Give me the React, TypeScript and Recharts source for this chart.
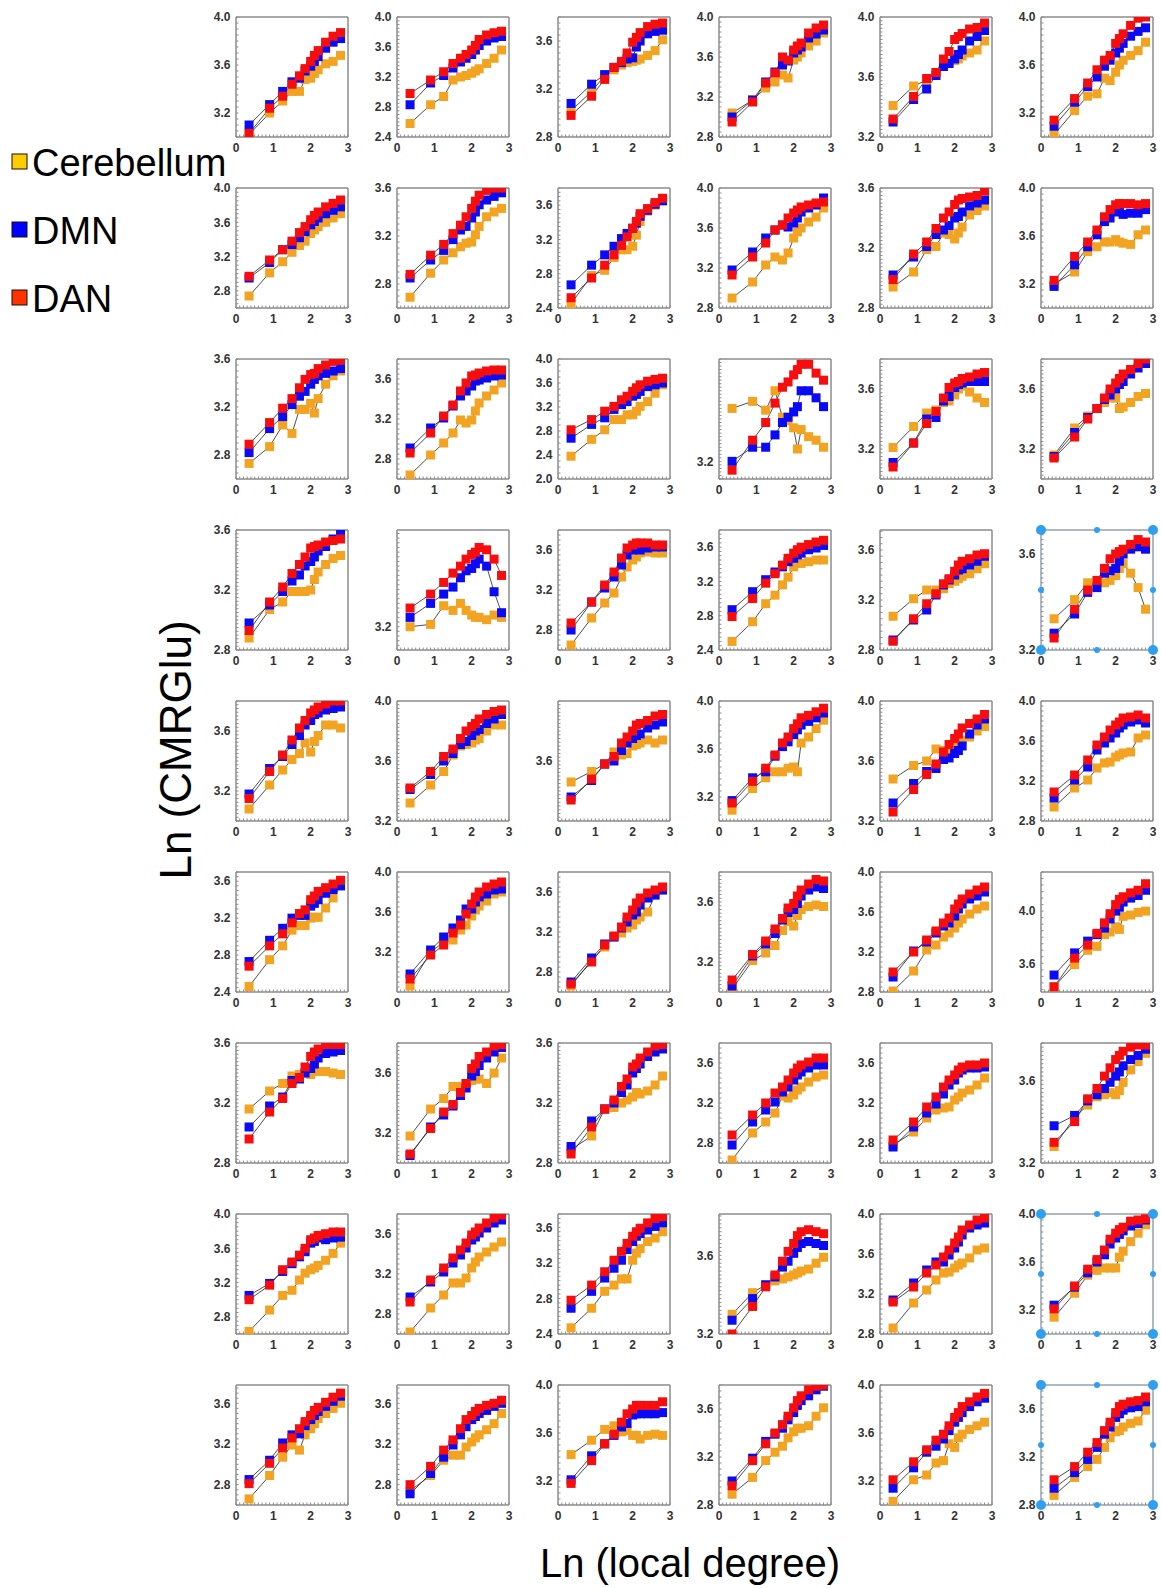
import { LineChart, Line, XAxis, YAxis, ReferenceArea, ReferenceDot } from "recharts";

// ln(local degree) bins, same in every panel
const X_POINTS = [0.35, 0.9, 1.25, 1.5, 1.7, 1.85, 2.0, 2.1, 2.2, 2.4, 2.6, 2.8];
const X_TICKS = [0, 1, 2, 3];

// y range per panel, row by row (6 per row)
const Y_DOMAINS: number[][] = [
  [3.0, 4.0], [2.4, 4.0], [2.8, 3.8], [2.8, 4.0], [3.2, 4.0], [3.0, 4.0],
  [2.6, 4.0], [2.6, 3.6], [2.4, 3.8], [2.8, 4.0], [2.8, 3.6], [3.0, 4.0],
  [2.6, 3.6], [2.6, 3.8], [2.0, 4.0], [3.1, 3.78], [3.0, 3.8], [3.0, 3.8],
  [2.8, 3.6], [3.1, 3.615], [2.6, 3.8], [2.4, 3.8], [2.8, 3.76], [3.2, 3.7],
  [3.0, 3.8], [3.2, 4.0], [3.2, 4.0], [3.0, 4.0], [3.2, 4.0], [2.8, 4.0],
  [2.4, 3.7], [2.8, 4.0], [2.6, 3.8], [3.0, 3.8], [2.8, 4.0], [3.38, 4.3],
  [2.8, 3.6], [3.0, 3.8], [2.8, 3.6], [2.6, 3.8], [2.6, 3.8], [3.2, 3.78],
  [2.6, 4.0], [2.6, 3.8], [2.4, 3.75], [3.2, 3.81], [2.8, 4.0], [3.0, 4.0],
  [2.6, 3.78], [2.6, 3.78], [3.0, 4.0], [2.8, 3.8], [3.0, 4.0], [2.8, 3.8],
];

const Y_TICKS: number[][] = [
  [3.2, 3.6, 4.0], [2.4, 2.8, 3.2, 3.6, 4.0], [2.8, 3.2, 3.6], [2.8, 3.2, 3.6, 4.0], [3.2, 3.6, 4.0], [3.2, 3.6, 4.0],
  [2.8, 3.2, 3.6, 4.0], [2.8, 3.2, 3.6], [2.4, 2.8, 3.2, 3.6], [2.8, 3.2, 3.6, 4.0], [2.8, 3.2, 3.6], [3.2, 3.6, 4.0],
  [2.8, 3.2, 3.6], [2.8, 3.2, 3.6], [2.0, 2.4, 2.8, 3.2, 3.6, 4.0], [3.2], [3.2, 3.6], [3.2, 3.6],
  [2.8, 3.2, 3.6], [3.2], [2.8, 3.2, 3.6], [2.4, 2.8, 3.2, 3.6], [2.8, 3.2, 3.6], [3.2, 3.6],
  [3.2, 3.6], [3.2, 3.6, 4.0], [3.6], [3.2, 3.6, 4.0], [3.2, 3.6, 4.0], [2.8, 3.2, 3.6, 4.0],
  [2.4, 2.8, 3.2, 3.6], [3.2, 3.6, 4.0], [2.8, 3.2, 3.6], [3.2, 3.6], [2.8, 3.2, 3.6, 4.0], [3.6, 4.0],
  [2.8, 3.2, 3.6], [3.2, 3.6], [2.8, 3.2, 3.6], [2.8, 3.2, 3.6], [2.8, 3.2, 3.6], [3.2, 3.6],
  [2.8, 3.2, 3.6, 4.0], [2.8, 3.2, 3.6], [2.4, 2.8, 3.2, 3.6], [3.2, 3.6], [2.8, 3.2, 3.6, 4.0], [3.2, 3.6, 4.0],
  [2.8, 3.2, 3.6], [2.8, 3.2, 3.6], [3.2, 3.6, 4.0], [2.8, 3.2, 3.6], [3.2, 3.6, 4.0], [2.8, 3.2, 3.6],
];

// panels that still show the selection handles of the source figure
const SELECTED_PANELS = [23, 47, 53];

// Ln(CMRGlu) per panel
const CEREBELLUM: number[][] = [
  [3.02, 3.20, 3.30, 3.38, 3.38, 3.48, 3.49, 3.53, 3.56, 3.61, 3.63, 3.68],
  [2.58, 2.83, 2.94, 3.16, 3.20, 3.22, 3.25, 3.28, 3.31, 3.38, 3.45, 3.56],
  [3.02, 3.18, 3.31, 3.36, 3.40, 3.42, 3.43, 3.44, 3.45, 3.48, 3.52, 3.61],
  [3.04, 3.17, 3.29, 3.35, 3.42, 3.39, 3.57, 3.60, 3.64, 3.71, 3.76, 3.84],
  [3.41, 3.54, 3.58, 3.63, 3.69, 3.70, 3.71, 3.72, 3.74, 3.76, 3.78, 3.84],
  [3.02, 3.22, 3.34, 3.36, 3.49, 3.47, 3.54, 3.60, 3.64, 3.68, 3.72, 3.79],

  [2.74, 3.01, 3.14, 3.25, 3.33, 3.38, 3.47, 3.51, 3.55, 3.60, 3.65, 3.70],
  [2.69, 2.89, 3.00, 3.06, 3.11, 3.14, 3.15, 3.21, 3.28, 3.36, 3.40, 3.43],
  [2.45, 2.78, 2.84, 2.99, 3.08, 3.08, 3.12, 3.25, 3.41, 3.53, 3.60, 3.66],
  [2.90, 3.06, 3.23, 3.31, 3.28, 3.35, 3.50, 3.56, 3.60, 3.66, 3.71, 3.80],
  [2.94, 3.04, 3.19, 3.21, 3.30, 3.29, 3.26, 3.30, 3.34, 3.42, 3.45, 3.48],
  [3.20, 3.30, 3.47, 3.51, 3.55, 3.55, 3.57, 3.55, 3.54, 3.53, 3.61, 3.65],

  [2.73, 2.87, 3.05, 2.98, 3.18, 3.18, 3.23, 3.15, 3.27, 3.39, 3.46, 3.50],
  [2.64, 2.84, 2.96, 3.06, 3.19, 3.16, 3.19, 3.28, 3.36, 3.43, 3.49, 3.56],
  [2.38, 2.66, 2.82, 2.99, 2.99, 3.07, 3.07, 3.13, 3.21, 3.29, 3.43, 3.57],
  [3.50, 3.54, 3.49, 3.60, 3.45, 3.43, 3.39, 3.27, 3.38, 3.34, 3.32, 3.28],
  [3.21, 3.35, 3.44, 3.46, 3.51, 3.52, 3.56, 3.60, 3.62, 3.58, 3.54, 3.51],
  [3.16, 3.34, 3.42, 3.47, 3.51, 3.54, 3.54, 3.47, 3.48, 3.51, 3.55, 3.57],

  [2.88, 3.07, 3.12, 3.19, 3.19, 3.19, 3.20, 3.27, 3.32, 3.37, 3.41, 3.43],
  [3.20, 3.21, 3.29, 3.27, 3.30, 3.27, 3.25, 3.24, 3.24, 3.23, 3.25, 3.24],
  [2.65, 2.92, 3.07, 3.17, 3.33, 3.43, 3.50, 3.53, 3.57, 3.58, 3.57, 3.57],
  [2.50, 2.73, 2.94, 3.04, 3.16, 3.25, 3.37, 3.43, 3.41, 3.43, 3.45, 3.45],
  [3.07, 3.21, 3.28, 3.28, 3.29, 3.33, 3.35, 3.37, 3.39, 3.41, 3.45, 3.49],
  [3.33, 3.41, 3.48, 3.48, 3.48, 3.49, 3.51, 3.54, 3.56, 3.52, 3.46, 3.37],

  [3.08, 3.24, 3.34, 3.41, 3.45, 3.52, 3.46, 3.53, 3.57, 3.64, 3.64, 3.62],
  [3.32, 3.44, 3.53, 3.64, 3.70, 3.71, 3.72, 3.74, 3.75, 3.80, 3.84, 3.84],
  [3.46, 3.53, 3.58, 3.66, 3.64, 3.65, 3.70, 3.71, 3.72, 3.74, 3.72, 3.74],
  [3.09, 3.27, 3.36, 3.41, 3.41, 3.44, 3.45, 3.41, 3.65, 3.70, 3.77, 3.84],
  [3.48, 3.57, 3.60, 3.68, 3.67, 3.65, 3.70, 3.73, 3.74, 3.76, 3.80, 3.83],
  [2.94, 3.13, 3.21, 3.33, 3.38, 3.39, 3.44, 3.46, 3.48, 3.49, 3.63, 3.66],

  [2.46, 2.75, 2.90, 3.07, 3.12, 3.12, 3.20, 3.21, 3.21, 3.31, 3.42, 3.55],
  [2.86, 3.20, 3.30, 3.32, 3.42, 3.47, 3.56, 3.62, 3.66, 3.71, 3.78, 3.80],
  [2.66, 2.92, 3.05, 3.15, 3.19, 3.24, 3.27, 3.32, 3.35, 3.40, 3.57, 3.62],
  [3.02, 3.21, 3.26, 3.31, 3.41, 3.47, 3.44, 3.51, 3.55, 3.57, 3.58, 3.57],
  [2.81, 3.01, 3.22, 3.27, 3.35, 3.39, 3.44, 3.49, 3.53, 3.58, 3.63, 3.66],
  [3.42, 3.59, 3.70, 3.73, 3.82, 3.84, 3.88, 3.86, 3.96, 3.97, 3.99, 4.00],

  [3.16, 3.28, 3.33, 3.38, 3.39, 3.40, 3.39, 3.42, 3.41, 3.41, 3.40, 3.39],
  [3.18, 3.36, 3.43, 3.51, 3.51, 3.53, 3.55, 3.56, 3.56, 3.53, 3.60, 3.70],
  [2.89, 2.98, 3.16, 3.17, 3.20, 3.22, 3.24, 3.27, 3.26, 3.28, 3.32, 3.38],
  [2.63, 2.90, 3.01, 3.10, 3.27, 3.25, 3.28, 3.33, 3.36, 3.41, 3.46, 3.48],
  [2.78, 2.91, 3.05, 3.13, 3.15, 3.16, 3.23, 3.26, 3.30, 3.33, 3.38, 3.45],
  [3.28, 3.42, 3.48, 3.52, 3.53, 3.54, 3.53, 3.55, 3.59, 3.65, 3.69, 3.73],

  [2.63, 2.88, 3.05, 3.11, 3.23, 3.31, 3.35, 3.37, 3.40, 3.46, 3.54, 3.66],
  [2.62, 2.86, 2.99, 3.11, 3.11, 3.16, 3.26, 3.32, 3.37, 3.42, 3.47, 3.52],
  [2.47, 2.69, 2.88, 2.95, 3.02, 3.02, 3.23, 3.31, 3.36, 3.44, 3.48, 3.55],
  [3.30, 3.41, 3.45, 3.47, 3.48, 3.49, 3.50, 3.51, 3.52, 3.53, 3.56, 3.59],
  [2.86, 3.11, 3.24, 3.34, 3.41, 3.42, 3.46, 3.49, 3.51, 3.56, 3.64, 3.66],
  [3.14, 3.34, 3.49, 3.53, 3.55, 3.55, 3.55, 3.64, 3.69, 3.77, 3.84, 3.91],

  [2.66, 2.89, 3.07, 3.19, 3.14, 3.29, 3.35, 3.40, 3.45, 3.50, 3.55, 3.60],
  [2.74, 2.89, 3.04, 3.09, 3.09, 3.17, 3.22, 3.26, 3.29, 3.34, 3.40, 3.50],
  [3.42, 3.54, 3.63, 3.66, 3.61, 3.62, 3.58, 3.58, 3.55, 3.58, 3.59, 3.58],
  [2.89, 3.03, 3.17, 3.24, 3.29, 3.36, 3.41, 3.44, 3.44, 3.46, 3.54, 3.61],
  [3.03, 3.21, 3.25, 3.35, 3.37, 3.51, 3.48, 3.56, 3.59, 3.63, 3.66, 3.69],
  [2.88, 3.03, 3.12, 3.18, 3.28, 3.36, 3.41, 3.42, 3.45, 3.48, 3.50, 3.59],
];

const DMN: number[][] = [
  [3.10, 3.27, 3.38, 3.46, 3.49, 3.55, 3.59, 3.63, 3.67, 3.74, 3.79, 3.82],
  [2.83, 3.12, 3.22, 3.32, 3.40, 3.45, 3.50, 3.56, 3.62, 3.68, 3.72, 3.74],
  [3.08, 3.24, 3.32, 3.38, 3.42, 3.45, 3.46, 3.55, 3.60, 3.66, 3.68, 3.69],
  [3.00, 3.17, 3.35, 3.45, 3.52, 3.56, 3.64, 3.67, 3.70, 3.79, 3.83, 3.87],
  [3.30, 3.45, 3.52, 3.61, 3.67, 3.69, 3.72, 3.75, 3.78, 3.84, 3.87, 3.91],
  [3.09, 3.29, 3.42, 3.50, 3.59, 3.64, 3.70, 3.74, 3.78, 3.84, 3.88, 3.91],

  [2.95, 3.13, 3.28, 3.34, 3.42, 3.49, 3.57, 3.61, 3.65, 3.70, 3.74, 3.78],
  [2.85, 3.00, 3.08, 3.17, 3.25, 3.28, 3.35, 3.40, 3.46, 3.50, 3.53, 3.56],
  [2.67, 2.90, 3.02, 3.12, 3.21, 3.27, 3.33, 3.39, 3.47, 3.54, 3.61, 3.65],
  [3.18, 3.36, 3.50, 3.58, 3.63, 3.61, 3.65, 3.70, 3.76, 3.80, 3.83, 3.90],
  [3.02, 3.14, 3.21, 3.29, 3.32, 3.35, 3.40, 3.41, 3.44, 3.48, 3.50, 3.52],
  [3.18, 3.36, 3.51, 3.61, 3.72, 3.75, 3.80, 3.83, 3.78, 3.79, 3.79, 3.82],

  [2.82, 3.02, 3.12, 3.22, 3.29, 3.33, 3.39, 3.43, 3.46, 3.48, 3.50, 3.52],
  [2.91, 3.11, 3.21, 3.33, 3.43, 3.48, 3.53, 3.58, 3.59, 3.61, 3.63, 3.64],
  [2.68, 2.91, 3.02, 3.16, 3.24, 3.29, 3.38, 3.41, 3.46, 3.54, 3.57, 3.60],
  [3.20, 3.28, 3.28, 3.35, 3.42, 3.45, 3.48, 3.51, 3.60, 3.60, 3.56, 3.51],
  [3.11, 3.24, 3.40, 3.41, 3.52, 3.55, 3.61, 3.63, 3.64, 3.65, 3.65, 3.65],
  [3.15, 3.31, 3.41, 3.47, 3.53, 3.56, 3.60, 3.63, 3.65, 3.70, 3.74, 3.77],

  [2.98, 3.10, 3.19, 3.26, 3.30, 3.36, 3.39, 3.42, 3.46, 3.49, 3.54, 3.59],
  [3.24, 3.30, 3.34, 3.37, 3.41, 3.44, 3.45, 3.47, 3.49, 3.46, 3.35, 3.26],
  [2.80, 3.08, 3.22, 3.33, 3.45, 3.55, 3.60, 3.62, 3.60, 3.62, 3.63, 3.63],
  [2.87, 3.08, 3.22, 3.31, 3.37, 3.43, 3.47, 3.51, 3.53, 3.57, 3.59, 3.62],
  [2.88, 3.04, 3.12, 3.24, 3.32, 3.36, 3.40, 3.44, 3.45, 3.48, 3.51, 3.55],
  [3.27, 3.35, 3.44, 3.46, 3.52, 3.53, 3.54, 3.57, 3.60, 3.62, 3.63, 3.62],

  [3.18, 3.35, 3.43, 3.51, 3.57, 3.64, 3.67, 3.71, 3.72, 3.74, 3.75, 3.76],
  [3.41, 3.51, 3.60, 3.65, 3.71, 3.73, 3.77, 3.80, 3.81, 3.85, 3.88, 3.91],
  [3.36, 3.47, 3.58, 3.60, 3.67, 3.72, 3.75, 3.77, 3.78, 3.82, 3.84, 3.86],
  [3.17, 3.36, 3.41, 3.54, 3.62, 3.66, 3.72, 3.76, 3.80, 3.83, 3.86, 3.90],
  [3.32, 3.45, 3.53, 3.55, 3.61, 3.62, 3.65, 3.67, 3.70, 3.78, 3.84, 3.88],
  [3.03, 3.21, 3.34, 3.51, 3.58, 3.63, 3.68, 3.73, 3.76, 3.79, 3.81, 3.78],

  [2.73, 2.96, 3.09, 3.20, 3.23, 3.23, 3.33, 3.36, 3.40, 3.47, 3.51, 3.55],
  [2.98, 3.22, 3.35, 3.44, 3.52, 3.63, 3.63, 3.70, 3.75, 3.78, 3.82, 3.83],
  [2.70, 2.94, 3.08, 3.15, 3.24, 3.30, 3.37, 3.40, 3.47, 3.54, 3.57, 3.62],
  [3.04, 3.24, 3.32, 3.39, 3.48, 3.53, 3.55, 3.59, 3.64, 3.68, 3.70, 3.69],
  [2.95, 3.21, 3.30, 3.39, 3.46, 3.49, 3.56, 3.63, 3.68, 3.73, 3.76, 3.80],
  [3.51, 3.68, 3.77, 3.82, 3.87, 3.94, 4.00, 4.03, 4.07, 4.10, 4.12, 4.16],

  [3.04, 3.18, 3.24, 3.35, 3.36, 3.40, 3.43, 3.46, 3.50, 3.53, 3.54, 3.55],
  [3.05, 3.24, 3.32, 3.38, 3.45, 3.50, 3.58, 3.61, 3.65, 3.70, 3.74, 3.77],
  [2.91, 3.08, 3.16, 3.20, 3.27, 3.32, 3.40, 3.43, 3.46, 3.51, 3.54, 3.56],
  [2.78, 3.01, 3.13, 3.21, 3.31, 3.36, 3.43, 3.48, 3.51, 3.55, 3.58, 3.58],
  [2.76, 2.96, 3.10, 3.19, 3.29, 3.38, 3.43, 3.50, 3.53, 3.55, 3.55, 3.56],
  [3.38, 3.43, 3.50, 3.53, 3.56, 3.59, 3.62, 3.64, 3.67, 3.70, 3.72, 3.75],

  [3.05, 3.19, 3.33, 3.42, 3.50, 3.56, 3.66, 3.68, 3.72, 3.70, 3.72, 3.73],
  [2.97, 3.12, 3.22, 3.31, 3.39, 3.46, 3.54, 3.57, 3.61, 3.66, 3.71, 3.74],
  [2.69, 2.88, 3.03, 3.14, 3.23, 3.35, 3.44, 3.50, 3.53, 3.57, 3.61, 3.65],
  [3.27, 3.38, 3.45, 3.49, 3.54, 3.57, 3.61, 3.64, 3.66, 3.67, 3.66, 3.65],
  [3.14, 3.31, 3.44, 3.52, 3.52, 3.59, 3.66, 3.72, 3.79, 3.86, 3.89, 3.91],
  [3.24, 3.39, 3.51, 3.60, 3.66, 3.75, 3.80, 3.83, 3.86, 3.90, 3.92, 3.95],

  [2.85, 3.04, 3.21, 3.29, 3.30, 3.38, 3.44, 3.48, 3.52, 3.57, 3.62, 3.67],
  [2.71, 2.91, 3.07, 3.19, 3.29, 3.37, 3.44, 3.47, 3.50, 3.53, 3.57, 3.60],
  [3.21, 3.41, 3.51, 3.58, 3.65, 3.68, 3.75, 3.76, 3.76, 3.76, 3.76, 3.77],
  [3.00, 3.19, 3.33, 3.39, 3.44, 3.51, 3.57, 3.63, 3.67, 3.71, 3.76, 3.79],
  [3.14, 3.31, 3.44, 3.49, 3.55, 3.62, 3.69, 3.73, 3.77, 3.82, 3.86, 3.89],
  [2.94, 3.07, 3.18, 3.28, 3.39, 3.45, 3.53, 3.56, 3.59, 3.61, 3.62, 3.66],
];

const DAN: number[][] = [
  [3.03, 3.24, 3.34, 3.44, 3.51, 3.57, 3.63, 3.68, 3.72, 3.79, 3.84, 3.87],
  [2.98, 3.16, 3.27, 3.38, 3.45, 3.50, 3.56, 3.62, 3.70, 3.76, 3.79, 3.81],
  [2.98, 3.14, 3.28, 3.38, 3.43, 3.50, 3.59, 3.63, 3.67, 3.72, 3.74, 3.75],
  [2.95, 3.15, 3.34, 3.44, 3.60, 3.57, 3.67, 3.71, 3.74, 3.84, 3.89, 3.92],
  [3.32, 3.47, 3.59, 3.63, 3.72, 3.77, 3.85, 3.87, 3.89, 3.92, 3.93, 3.96],
  [3.14, 3.32, 3.45, 3.56, 3.64, 3.68, 3.78, 3.82, 3.86, 3.93, 3.99, 4.00],

  [2.97, 3.16, 3.28, 3.38, 3.48, 3.55, 3.63, 3.68, 3.72, 3.78, 3.82, 3.86],
  [2.88, 3.04, 3.13, 3.22, 3.29, 3.36, 3.43, 3.49, 3.54, 3.58, 3.60, 3.60],
  [2.52, 2.75, 2.90, 3.02, 3.13, 3.23, 3.33, 3.41, 3.50, 3.56, 3.63, 3.68],
  [3.13, 3.31, 3.45, 3.58, 3.63, 3.70, 3.75, 3.78, 3.81, 3.83, 3.85, 3.86],
  [2.99, 3.16, 3.24, 3.33, 3.40, 3.44, 3.49, 3.52, 3.53, 3.54, 3.55, 3.58],
  [3.23, 3.43, 3.55, 3.65, 3.76, 3.82, 3.86, 3.87, 3.87, 3.87, 3.86, 3.87],

  [2.89, 3.07, 3.19, 3.27, 3.36, 3.43, 3.47, 3.48, 3.52, 3.55, 3.58, 3.59],
  [2.86, 3.06, 3.23, 3.34, 3.48, 3.56, 3.63, 3.64, 3.66, 3.68, 3.69, 3.69],
  [2.82, 2.99, 3.13, 3.21, 3.32, 3.38, 3.46, 3.52, 3.57, 3.63, 3.66, 3.68],
  [3.15, 3.32, 3.42, 3.53, 3.62, 3.65, 3.69, 3.72, 3.75, 3.75, 3.70, 3.66],
  [3.08, 3.24, 3.37, 3.45, 3.54, 3.61, 3.64, 3.65, 3.67, 3.68, 3.70, 3.71],
  [3.14, 3.28, 3.40, 3.47, 3.54, 3.60, 3.64, 3.67, 3.70, 3.73, 3.77, 3.80],

  [2.93, 3.12, 3.22, 3.31, 3.37, 3.42, 3.48, 3.49, 3.50, 3.52, 3.53, 3.54],
  [3.28, 3.34, 3.39, 3.43, 3.46, 3.49, 3.51, 3.52, 3.54, 3.53, 3.49, 3.42],
  [2.87, 3.08, 3.25, 3.38, 3.52, 3.62, 3.65, 3.67, 3.67, 3.67, 3.65, 3.65],
  [2.79, 3.00, 3.18, 3.29, 3.39, 3.47, 3.53, 3.57, 3.60, 3.63, 3.66, 3.68],
  [2.87, 3.05, 3.17, 3.25, 3.33, 3.37, 3.43, 3.48, 3.51, 3.53, 3.56, 3.57],
  [3.25, 3.37, 3.45, 3.49, 3.54, 3.58, 3.60, 3.61, 3.62, 3.64, 3.66, 3.65],

  [3.15, 3.33, 3.44, 3.54, 3.62, 3.67, 3.72, 3.74, 3.76, 3.78, 3.80, 3.80],
  [3.42, 3.53, 3.63, 3.68, 3.75, 3.80, 3.83, 3.85, 3.88, 3.91, 3.93, 3.94],
  [3.34, 3.48, 3.58, 3.63, 3.72, 3.76, 3.80, 3.84, 3.85, 3.87, 3.90, 3.91],
  [3.15, 3.33, 3.44, 3.55, 3.65, 3.70, 3.77, 3.81, 3.86, 3.88, 3.91, 3.94],
  [3.26, 3.41, 3.51, 3.58, 3.66, 3.71, 3.75, 3.78, 3.82, 3.85, 3.88, 3.91],
  [3.09, 3.26, 3.41, 3.56, 3.64, 3.71, 3.76, 3.79, 3.83, 3.84, 3.86, 3.83],

  [2.68, 2.90, 3.03, 3.15, 3.25, 3.29, 3.40, 3.44, 3.49, 3.53, 3.57, 3.61],
  [2.93, 3.17, 3.27, 3.39, 3.47, 3.58, 3.68, 3.75, 3.80, 3.85, 3.88, 3.90],
  [2.68, 2.90, 3.07, 3.16, 3.25, 3.35, 3.42, 3.49, 3.54, 3.59, 3.62, 3.65],
  [3.08, 3.25, 3.34, 3.42, 3.49, 3.56, 3.59, 3.64, 3.68, 3.72, 3.75, 3.74],
  [3.00, 3.20, 3.32, 3.41, 3.49, 3.54, 3.63, 3.68, 3.73, 3.78, 3.82, 3.85],
  [3.42, 3.64, 3.74, 3.83, 3.91, 3.98, 4.05, 4.09, 4.11, 4.14, 4.16, 4.21],

  [2.96, 3.14, 3.23, 3.33, 3.37, 3.44, 3.51, 3.54, 3.56, 3.59, 3.59, 3.59],
  [3.06, 3.23, 3.34, 3.39, 3.47, 3.53, 3.63, 3.66, 3.71, 3.74, 3.78, 3.79],
  [2.86, 3.04, 3.16, 3.22, 3.31, 3.36, 3.44, 3.46, 3.50, 3.54, 3.58, 3.59],
  [2.88, 3.08, 3.20, 3.30, 3.36, 3.43, 3.50, 3.55, 3.58, 3.61, 3.65, 3.65],
  [2.83, 3.01, 3.16, 3.26, 3.36, 3.43, 3.48, 3.53, 3.56, 3.58, 3.58, 3.60],
  [3.30, 3.40, 3.51, 3.56, 3.62, 3.66, 3.70, 3.72, 3.74, 3.76, 3.77, 3.77],

  [3.00, 3.17, 3.35, 3.44, 3.52, 3.60, 3.70, 3.72, 3.75, 3.77, 3.79, 3.79],
  [2.92, 3.14, 3.26, 3.36, 3.44, 3.51, 3.59, 3.62, 3.66, 3.71, 3.76, 3.79],
  [2.78, 2.95, 3.10, 3.23, 3.33, 3.42, 3.50, 3.55, 3.59, 3.65, 3.70, 3.72],
  [3.20, 3.34, 3.44, 3.50, 3.57, 3.62, 3.66, 3.70, 3.72, 3.73, 3.72, 3.71],
  [3.12, 3.27, 3.41, 3.49, 3.57, 3.64, 3.71, 3.77, 3.84, 3.89, 3.94, 3.96],
  [3.21, 3.40, 3.54, 3.62, 3.70, 3.79, 3.84, 3.87, 3.89, 3.94, 3.95, 3.96],

  [2.81, 3.01, 3.16, 3.26, 3.35, 3.42, 3.48, 3.53, 3.56, 3.61, 3.66, 3.70],
  [2.80, 2.98, 3.14, 3.24, 3.35, 3.44, 3.48, 3.52, 3.55, 3.58, 3.60, 3.63],
  [3.18, 3.37, 3.51, 3.59, 3.69, 3.76, 3.80, 3.83, 3.83, 3.83, 3.83, 3.86],
  [2.96, 3.17, 3.31, 3.40, 3.47, 3.54, 3.61, 3.67, 3.71, 3.76, 3.79, 3.80],
  [3.21, 3.36, 3.46, 3.54, 3.59, 3.66, 3.73, 3.77, 3.82, 3.86, 3.90, 3.93],
  [3.01, 3.12, 3.24, 3.32, 3.42, 3.49, 3.57, 3.62, 3.64, 3.66, 3.67, 3.70],
];

const COLS = 6;
const BOX_W = 112;
const BOX_H = 120;
const BOX_LEFT0 = 236;
const BOX_TOP0 = 17;
const COL_STEP = 161;
const ROW_STEP = 171;
const Y_AXIS_W = 44;
const TOP_PAD = 8;
const X_AXIS_H = 24;
const RIGHT_PAD = 8;
const MINOR = -2.5; // negative tick size -> ticks point into the box

const ORANGE = "#f2a322";
const BLUE = "#0a0af5";
const RED = "#f70d0d";
const FRAME = "#8c8c8c";
const HANDLE = "#2f9ff0";
const SANS = "'Liberation Sans', Arial, sans-serif";

const tickStyle = { fontSize: 12, fill: "#333", fontFamily: SANS, fontWeight: 600 };
const MINOR_X = Array.from({ length: 31 }, (_, k) => +(k * 0.1).toFixed(2));

function minorY(lo: number, hi: number) {
  const steps = [0.02, 0.025, 0.05, 0.1];
  const step = steps.find((s) => (s / (hi - lo)) * BOX_H >= 3.5) ?? 0.1;
  const out: number[] = [];
  for (let v = Math.ceil(lo / step - 1e-6) * step; v <= hi + 1e-9; v += step) out.push(+v.toFixed(3));
  return out;
}

function squareDot(color: string) {
  return (props: any) => {
    const { cx, cy, index } = props;
    if (cx == null || cy == null) return <g key={index} />;
    return <rect key={index} x={cx - 4.5} y={cy - 4.5} width={9} height={9} fill={color} />;
  };
}

function Panel({ i }: { i: number }) {
  const [lo, hi] = Y_DOMAINS[i];
  const r = Math.floor(i / COLS);
  const c = i % COLS;
  const data = X_POINTS.map((x, k) => ({
    x,
    cer: CEREBELLUM[i][k],
    dmn: DMN[i][k],
    dan: DAN[i][k],
  }));
  const yMinor = minorY(lo, hi);
  const majors = Y_TICKS[i];
  const frame = { stroke: FRAME, strokeWidth: 1 };
  const selected = SELECTED_PANELS.includes(i);
  const handles = selected
    ? [0, 1.5, 3].flatMap((hx) => [lo, (lo + hi) / 2, hi].map((hy) => ({ hx, hy })))
        .filter((h) => !(h.hx === 1.5 && h.hy !== lo && h.hy !== hi))
    : [];

  return (
    <div
      style={{
        position: "absolute",
        left: BOX_LEFT0 + c * COL_STEP - Y_AXIS_W,
        top: BOX_TOP0 + r * ROW_STEP - TOP_PAD,
      }}
    >
      <LineChart
        width={Y_AXIS_W + BOX_W + RIGHT_PAD}
        height={TOP_PAD + BOX_H + X_AXIS_H}
        data={data}
        margin={{ top: TOP_PAD, right: RIGHT_PAD, left: 0, bottom: 0 }}
      >
        {/* bottom / left: labels + minor ticks */}
        <XAxis xAxisId="b" dataKey="x" type="number" domain={[0, 3]} ticks={MINOR_X} interval={0}
          allowDataOverflow axisLine={frame} tickLine={frame} tickSize={MINOR} tickMargin={8.5}
          height={X_AXIS_H} tick={tickStyle}
          tickFormatter={(v: number) => (X_TICKS.includes(v) ? String(v) : "")} />
        <YAxis yAxisId="l" type="number" domain={[lo, hi]} ticks={yMinor} interval={0}
          allowDataOverflow axisLine={frame} tickLine={frame} tickSize={MINOR} tickMargin={8}
          width={Y_AXIS_W} tick={tickStyle}
          tickFormatter={(v: number) => (majors.some((m) => Math.abs(m - v) < 1e-6) ? v.toFixed(1) : "")} />

        {/* top / right of the frame */}
        <XAxis xAxisId="t" type="number" domain={[0, 3]} ticks={MINOR_X} interval={0} allowDataOverflow
          orientation="top" mirror height={1} tick={false} tickSize={2.5} axisLine={frame} tickLine={frame} />
        <YAxis yAxisId="r" type="number" domain={[lo, hi]} ticks={yMinor} interval={0} allowDataOverflow
          orientation="right" mirror width={1} tick={false} tickSize={2.5} axisLine={frame} tickLine={frame} />
        <ReferenceArea xAxisId="b" yAxisId="l" x1={0} x2={3} y1={lo} y2={hi}
          fill="none" stroke={selected ? "#9fcdf2" : FRAME} strokeWidth={1} ifOverflow="visible" />

        <Line xAxisId="t" yAxisId="r" dataKey="dan" stroke="none" dot={false} activeDot={false}
          isAnimationActive={false} />
        <Line xAxisId="b" yAxisId="l" dataKey="cer" stroke="#222" strokeWidth={0.8}
          dot={squareDot(ORANGE)} activeDot={false} isAnimationActive={false} />
        <Line xAxisId="b" yAxisId="l" dataKey="dmn" stroke="#222" strokeWidth={0.8}
          dot={squareDot(BLUE)} activeDot={false} isAnimationActive={false} />
        <Line xAxisId="b" yAxisId="l" dataKey="dan" stroke="#222" strokeWidth={0.8}
          dot={squareDot(RED)} activeDot={false} isAnimationActive={false} />

        {handles.map((h, k) => {
          const corner = (h.hx === 0 || h.hx === 3) && (h.hy === lo || h.hy === hi);
          return (
            <ReferenceDot key={k} xAxisId="b" yAxisId="l" x={h.hx} y={h.hy} r={corner ? 5 : 3}
              fill={HANDLE} stroke="none" ifOverflow="visible" />
          );
        })}
      </LineChart>
    </div>
  );
}

const LEGEND = [
  { name: "Cerebellum", color: "#ffcc00", y: 176 },
  { name: "DMN", color: "#0000ff", y: 244 },
  { name: "DAN", color: "#ff3300", y: 312 },
];

export default function App() {
  return (
    <div style={{ position: "absolute", left: 0, top: 0, width: 1161, height: 1588, background: "#fff", overflow: "hidden" }}>
      {Y_DOMAINS.map((_, i) => (
        <Panel key={i} i={i} />
      ))}
      <svg width={1161} height={1588} style={{ position: "absolute", left: 0, top: 0, pointerEvents: "none" }}>
        {LEGEND.map((l) => (
          <g key={l.name}>
            <rect x={12} y={l.y - 22} width={15} height={15} fill={l.color} stroke="#111" strokeWidth={1} />
            <text x={32} y={l.y} fontSize={38} fontFamily={SANS} fill="#000">
              {l.name}
            </text>
          </g>
        ))}
        <text x={191} y={750} fontSize={44} fontFamily={SANS} fill="#000"
          textAnchor="middle" transform="rotate(-90 191 750)">
          Ln (CMRGlu)
        </text>
        <text x={690} y={1577} fontSize={40} fontFamily={SANS} fill="#000" textAnchor="middle">
          Ln (local degree)
        </text>
      </svg>
    </div>
  );
}
